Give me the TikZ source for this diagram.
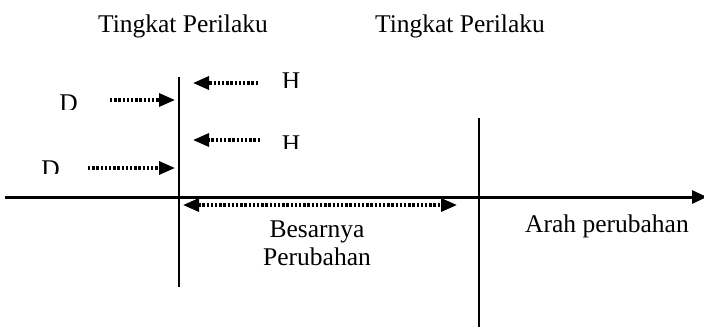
\documentclass[tikz,border=0pt]{standalone}
\usepackage{fontspec}
\setmainfont{Liberation Serif}
\usetikzlibrary{arrows.meta}
\tikzset{
  lbl/.style={inner sep=0pt, anchor=base, font=\fontsize{25.5}{30}\selectfont},
  axisline/.style={line width=3pt},
  vline/.style={line width=2.2pt},
  dotarrow/.style={line width=3.2pt, dash pattern=on 2.4pt off 1.8pt, -{Triangle[length=16pt,width=13pt]}},
  dotboth/.style={line width=3.2pt, dash pattern=on 2.4pt off 1.8pt, {Triangle[length=16pt,width=13pt]}-{Triangle[length=16pt,width=13pt]}}
}
\begin{document}
\begin{tikzpicture}[x=1pt,y=-1pt]
\useasboundingbox (0,0) rectangle (704,333);
% titles
\node[lbl] (t1) at (183,32) {Tingkat Perilaku};
\node[lbl] (t2) at (460,32) {Tingkat Perilaku};
% axis
\coordinate (ax0) at (5,197);
\coordinate (ax1) at (707,197);
\draw[axisline,-{Triangle[length=15pt,width=13pt]}] (ax0) -- (ax1);
% vertical lines
\coordinate (v1a) at (179,77);
\coordinate (v1b) at (179,287);
\coordinate (v2a) at (479,118);
\coordinate (v2b) at (479,327);
\draw[vline] (v1a) -- (v1b);
\draw[vline] (v2a) -- (v2b);
% D arrows
\coordinate (d1s) at (110,100);
\coordinate (d1e) at (175,100);
\coordinate (d2s) at (88,168);
\coordinate (d2e) at (175,168);
\draw[dotarrow] (d1s) -- (d1e);
\draw[dotarrow] (d2s) -- (d2e);
% H arrows
\coordinate (h1s) at (258,83);
\coordinate (h1e) at (193,83);
\coordinate (h2s) at (260,140);
\coordinate (h2e) at (193,140);
\draw[dotarrow] (h1s) -- (h1e);
\draw[dotarrow] (h2s) -- (h2e);
% clipped letters
\begin{scope}
  \clip (40,80) rectangle (100,109.5);
  \node[lbl] (D1) at (68.5,111.5) {D};
\end{scope}
\begin{scope}
  \clip (20,150) rectangle (80,173.5);
  \node[lbl] (D2) at (50.5,177.5) {D};
\end{scope}
\begin{scope}
  \clip (270,60) rectangle (320,87);
  \node[lbl] (H1) at (291,89) {H};
\end{scope}
\begin{scope}
  \clip (270,120) rectangle (320,148);
  \node[lbl] (H2) at (291,152) {H};
\end{scope}
% change magnitude
\coordinate (b1) at (183,205);
\coordinate (b2) at (457,205);
\draw[dotboth] (b1) -- (b2);
\node[lbl] (bes) at (317,237) {Besarnya};
\node[lbl] (per) at (317,265) {Perubahan};
\node[lbl] (arah) at (607,232) {Arah perubahan};
\end{tikzpicture}
\end{document}
